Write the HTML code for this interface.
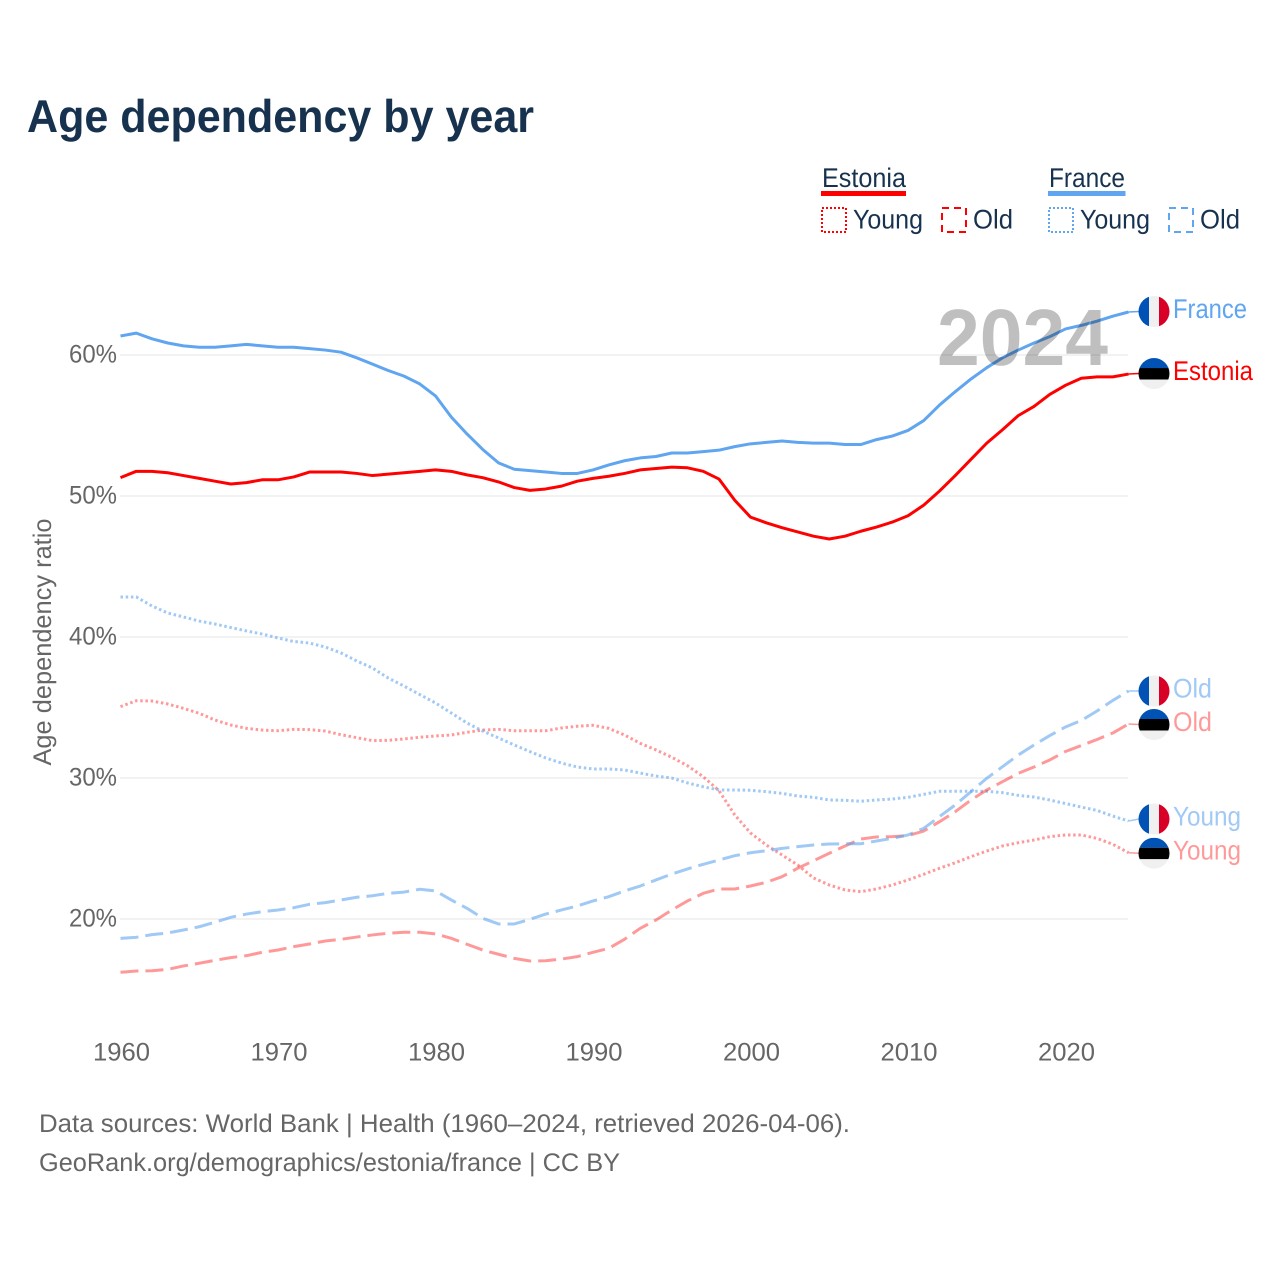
<!DOCTYPE html>
<html lang="en">
<head>
<meta charset="utf-8">
<title>Age dependency by year</title>
<style>
html,body{margin:0;padding:0;background:#fff;width:1280px;height:1280px;overflow:hidden}
svg{display:block;font-family:"Liberation Sans",sans-serif;text-rendering:geometricPrecision}
</style>
</head>
<body>
<svg id="chart" xmlns="http://www.w3.org/2000/svg" width="1280" height="1280" viewBox="0 0 1280 1280">
  <rect x="0" y="0" width="1280" height="1280" fill="#fff"/>
  <text x="27" y="132" font-size="46" font-weight="700" fill="#17324f" textLength="507" lengthAdjust="spacingAndGlyphs">Age dependency by year</text>

  <g fill="#17324f" font-size="27">
    <text x="822" y="187" textLength="84" lengthAdjust="spacingAndGlyphs">Estonia</text>
    <rect x="821" y="191" width="85" height="5" fill="#ff0000"/>
    <rect x="822" y="208" width="24" height="24" fill="none" stroke="#ff0000" stroke-width="2" stroke-dasharray="2 2"/>
    <text x="853" y="228.5" textLength="70" lengthAdjust="spacingAndGlyphs">Young</text>
    <rect x="942" y="208" width="24" height="24" fill="none" stroke="#ff0000" stroke-width="2" stroke-dasharray="7 5"/>
    <text x="973" y="228.5" textLength="40" lengthAdjust="spacingAndGlyphs">Old</text>
    <text x="1049" y="187" textLength="76" lengthAdjust="spacingAndGlyphs">France</text>
    <rect x="1048" y="191" width="77.5" height="5" fill="#60a5ef"/>
    <rect x="1049" y="208" width="24" height="24" fill="none" stroke="#60a5ef" stroke-width="2" stroke-dasharray="2 2"/>
    <text x="1080" y="228.5" textLength="70" lengthAdjust="spacingAndGlyphs">Young</text>
    <rect x="1169" y="208" width="24" height="24" fill="none" stroke="#60a5ef" stroke-width="2" stroke-dasharray="7 5"/>
    <text x="1200" y="228.5" textLength="40" lengthAdjust="spacingAndGlyphs">Old</text>
  </g>

  <g id="grid"></g>
  <g id="yticks" fill="#666" font-size="25.5" text-anchor="end"></g>
  <g id="xticks" fill="#666" font-size="25.5" text-anchor="middle"></g>
  <text transform="translate(51,642) rotate(-90)" text-anchor="middle" font-size="25.5" fill="#666" textLength="247" lengthAdjust="spacingAndGlyphs">Age dependency ratio</text>

  <g id="series" fill="none" stroke-width="3" stroke-linejoin="round"></g>
  <text id="yearmark" x="937" y="365" font-size="80" font-weight="700" fill="#000" fill-opacity="0.25" textLength="171" lengthAdjust="spacingAndGlyphs">2024</text>
  <g id="endlabels"></g>

  <text x="39" y="1132" font-size="25.5" fill="#666" textLength="811" lengthAdjust="spacingAndGlyphs">Data sources: World Bank | Health (1960–2024, retrieved 2026-04-06).</text>
  <text x="39" y="1171" font-size="25.5" fill="#666" textLength="581" lengthAdjust="spacingAndGlyphs">GeoRank.org/demographics/estonia/france | CC BY</text>
</svg>
<script>
const firstYear = 1960;
const xTickYears = [1960, 1970, 1980, 1990, 2000, 2010, 2020];
const yTickValues = [20, 30, 40, 50, 60];
const franceTotal = [61.35,61.55,61.15,60.85,60.65,60.55,60.55,60.65,60.75,60.65,60.55,60.55,60.45,60.35,60.2,59.8,59.35,58.9,58.5,57.95,57.1,55.6,54.4,53.3,52.35,51.9,51.8,51.7,51.6,51.6,51.85,52.2,52.5,52.7,52.8,53.05,53.05,53.15,53.25,53.5,53.7,53.8,53.9,53.8,53.75,53.75,53.65,53.65,54.0,54.25,54.65,55.35,56.45,57.4,58.3,59.1,59.8,60.35,60.85,61.3,61.85,62.1,62.4,62.75,63.05];
const estoniaTotal = [51.3,51.75,51.75,51.65,51.45,51.25,51.05,50.85,50.95,51.15,51.15,51.35,51.7,51.7,51.7,51.6,51.45,51.55,51.65,51.75,51.85,51.75,51.5,51.3,51.0,50.6,50.4,50.5,50.7,51.05,51.25,51.4,51.6,51.85,51.95,52.05,52.0,51.75,51.2,49.7,48.5,48.1,47.75,47.45,47.15,46.95,47.15,47.5,47.8,48.15,48.6,49.35,50.35,51.45,52.6,53.75,54.7,55.7,56.35,57.2,57.85,58.35,58.45,58.45,58.65];
const franceYoung = [42.84,42.84,42.2,41.7,41.42,41.13,40.92,40.67,40.43,40.21,39.93,39.68,39.57,39.29,38.87,38.3,37.8,37.09,36.52,35.92,35.32,34.61,33.9,33.33,32.84,32.34,31.87,31.42,31.06,30.78,30.64,30.64,30.57,30.35,30.14,30,29.65,29.38,29.15,29.15,29.13,29.03,28.91,28.72,28.63,28.44,28.42,28.35,28.44,28.51,28.63,28.84,29.06,29.06,29.06,29.06,28.96,28.77,28.65,28.44,28.19,27.94,27.7,27.3,26.95];
const estoniaYoung = [35.06,35.48,35.46,35.25,34.94,34.59,34.11,33.76,33.52,33.4,33.35,33.45,33.43,33.33,33.07,32.86,32.65,32.67,32.77,32.89,32.98,33.05,33.24,33.4,33.45,33.35,33.35,33.35,33.55,33.67,33.74,33.52,33.05,32.46,31.99,31.47,30.87,30.09,29.1,27.38,26.1,25.25,24.54,23.83,22.91,22.41,22.06,21.94,22.13,22.41,22.77,23.17,23.6,23.99,24.42,24.82,25.18,25.41,25.6,25.84,25.96,25.96,25.72,25.3,24.7];
const franceOld = [18.63,18.7,18.89,19.01,19.22,19.45,19.77,20.12,20.35,20.52,20.64,20.8,21.04,21.16,21.35,21.54,21.65,21.82,21.91,22.11,21.99,21.35,20.76,20.05,19.65,19.65,19.98,20.35,20.64,20.92,21.28,21.58,21.99,22.34,22.77,23.19,23.55,23.88,24.18,24.49,24.7,24.84,25.01,25.13,25.25,25.32,25.34,25.34,25.53,25.72,25.96,26.43,27.26,28.09,29.03,29.98,30.8,31.63,32.34,33.01,33.62,34.08,34.75,35.5,36.17];
const estoniaOld = [16.22,16.31,16.33,16.43,16.67,16.86,17.07,17.26,17.4,17.64,17.8,18.04,18.23,18.44,18.56,18.72,18.87,18.99,19.06,19.06,18.94,18.63,18.21,17.8,17.5,17.21,17.02,17.04,17.16,17.33,17.64,17.92,18.56,19.34,19.93,20.64,21.28,21.82,22.13,22.13,22.34,22.6,23,23.6,24.13,24.66,25.18,25.67,25.82,25.84,25.91,26.24,26.9,27.61,28.44,29.15,29.74,30.33,30.78,31.28,31.88,32.3,32.73,33.19,33.83];

const NS = 'http://www.w3.org/2000/svg';
const xScale = year => 120.5 + (year - 1960) * 15.75;
const yScale = value => 919 - (value - 20) * 14.1;
const plotLeft = 120;
const plotRight = 1128;

function make(tag, attrs, parent) {
  const el = document.createElementNS(NS, tag);
  for (const k in attrs) el.setAttribute(k, attrs[k]);
  parent.appendChild(el);
  return el;
}

const gridG = document.getElementById('grid');
const yTickG = document.getElementById('yticks');
const xTickG = document.getElementById('xticks');

yTickValues.forEach(v => {
  const line = make('line', {x1: plotLeft, x2: plotRight, y1: yScale(v), y2: yScale(v), stroke: '#eeeeee', 'stroke-width': 1.5}, gridG);
  
  
  const label = make('text', {x: 117, y: yScale(v) + 7.5, textLength: 48, lengthAdjust: 'spacingAndGlyphs'}, yTickG);
  label.textContent = v + '%';
  
  
});

xTickYears.forEach(y => {
  const label = make('text', {x: xScale(y) + 1, y: 1060.5, textLength: 57, lengthAdjust: 'spacingAndGlyphs'}, xTickG);
  label.textContent = String(y);
  
  
});

const seriesG = document.getElementById('series');
const labelsG = document.getElementById('endlabels');

function drawSeries(values, color, dash, opacity, name) {
  const d = values.map((v, i) => (i ? 'L' : 'M') + xScale(firstYear + i).toFixed(2) + ' ' + yScale(v).toFixed(2)).join(' ');
  const attrs = {d: d, stroke: color, 'stroke-opacity': opacity};
  if (dash) attrs['stroke-dasharray'] = dash;
  const path = make('path', attrs, seriesG);
  
  
}

function drawFlag(kind, cy, parent) {
  const cx = 1154;
  const r = 15.5;
  const clipId = 'clip-' + Math.round(cy);
  const cp = make('clipPath', {id: clipId}, parent);
  make('circle', {cx: cx, cy: cy, r: r}, cp);
  const g = make('g', {'clip-path': 'url(#' + clipId + ')'}, parent);
  
  
  if (kind === 'fr') {
    make('rect', {x: cx - r, y: cy - r, width: 10.5, height: 31, fill: '#0052b4'}, g);
    make('rect', {x: cx - 5, y: cy - r, width: 10, height: 31, fill: '#f0f0f0'}, g);
    make('rect', {x: cx + 5, y: cy - r, width: 10.5, height: 31, fill: '#d80027'}, g);
  } else {
    make('rect', {x: cx - r, y: cy - r, width: 31, height: 10, fill: '#0052b4'}, g);
    make('rect', {x: cx - r, y: cy - 5.5, width: 31, height: 11.5, fill: '#000000'}, g);
    make('rect', {x: cx - r, y: cy + 6, width: 31, height: 10, fill: '#f0f0f0'}, g);
  }
}

function drawEnd(values, color, opacity, text, width, kind, nudge, name) {
  const lastY = yScale(values[values.length - 1]);
  const cy = lastY + nudge;
  const leader = make('line', {x1: xScale(2024), y1: lastY, x2: 1139, y2: cy, stroke: color, 'stroke-opacity': opacity, 'stroke-width': 1.5}, labelsG);
  
  
  drawFlag(kind, cy, labelsG);
  const label = make('text', {x: 1173, y: cy + 6.5, fill: color, 'fill-opacity': opacity, 'font-size': 27, textLength: width, lengthAdjust: 'spacingAndGlyphs'}, labelsG);
  label.textContent = text;
  
  
}

const red = '#ff0000';
const blue = '#60a5ef';
const dotted = '2.5 2.7';
const dashed = '18 7';

drawSeries(estoniaYoung, red, dotted, 0.4, 'line-estonia-young');
drawSeries(franceYoung, blue, dotted, 0.6, 'line-france-young');
drawSeries(estoniaOld, red, dashed, 0.4, 'line-estonia-old');
drawSeries(franceOld, blue, dashed, 0.6, 'line-france-old');
drawSeries(estoniaTotal, red, null, 1, 'line-estonia-total');
drawSeries(franceTotal, blue, null, 1, 'line-france-total');

drawEnd(franceTotal, blue, 1, 'France', 74, 'fr', -0.5, 'france-total');
drawEnd(estoniaTotal, red, 1, 'Estonia', 80, 'ee', -0.5, 'estonia-total');
drawEnd(franceOld, blue, 0.6, 'Old', 39, 'fr', 0, 'france-old');
drawEnd(estoniaOld, red, 0.4, 'Old', 39, 'ee', 0.5, 'estonia-old');
drawEnd(franceYoung, blue, 0.6, 'Young', 68, 'fr', -2, 'france-young');
drawEnd(estoniaYoung, red, 0.4, 'Young', 68, 'ee', 0.5, 'estonia-young');
</script>
</body>
</html>
